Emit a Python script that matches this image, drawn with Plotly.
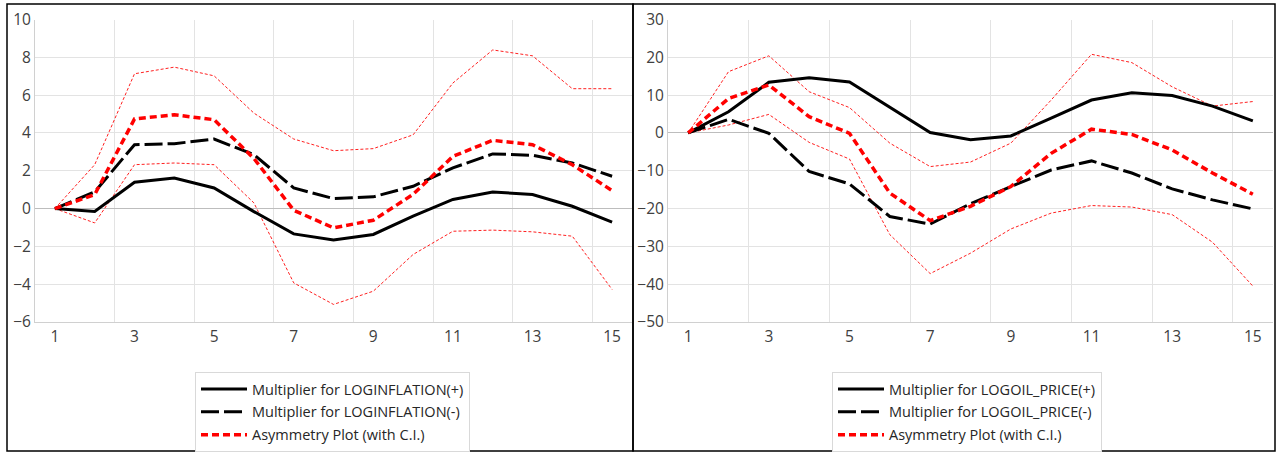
import plotly.graph_objects as go

steps = list(range(1, 16))

# Left panel: LOGINFLATION
inf_pos = [0, -0.15, 1.39, 1.62, 1.09, -0.16, -1.34, -1.66, -1.37, -0.4, 0.48, 0.88, 0.74, 0.12, -0.72]
inf_neg = [0, 0.88, 3.38, 3.43, 3.68, 2.85, 1.09, 0.53, 0.62, 1.18, 2.15, 2.89, 2.82, 2.41, 1.71]
inf_asym = [0, 0.74, 4.74, 4.96, 4.7, 2.65, -0.09, -1.02, -0.62, 0.75, 2.76, 3.61, 3.38, 2.32, 0.95]
inf_up = [0, 2.32, 7.13, 7.48, 7.02, 5.05, 3.68, 3.06, 3.17, 3.9, 6.64, 8.39, 8.08, 6.34, 6.34]
inf_lo = [0, -0.76, 2.32, 2.41, 2.32, 0.3, -3.93, -5.07, -4.37, -2.43, -1.2, -1.14, -1.23, -1.46, -4.28]

# Right panel: LOGOIL_PRICE
oil_pos = [0, 5.6, 13.4, 14.6, 13.5, 6.9, 0.1, -1.8, -0.8, 3.9, 8.7, 10.6, 9.9, 7.1, 3.2]
oil_neg = [0, 3.6, -0.1, -10.2, -13.5, -22.1, -24.1, -18.7, -14.2, -9.8, -7.4, -10.6, -14.8, -17.7, -20.1]
oil_asym = [0, 9.1, 12.7, 4.3, -0.1, -15.9, -23.2, -19.4, -14.2, -5.4, 1.0, -0.4, -4.5, -10.6, -16.2]
oil_up = [0, 16.2, 20.4, 10.9, 6.7, -2.7, -8.9, -7.7, -2.7, 8.7, 20.8, 18.6, 12.2, 7.1, 8.3]
oil_lo = [0, 2.1, 4.9, -2.5, -6.9, -26.9, -37.2, -31.8, -25.4, -21.2, -19.2, -19.6, -21.6, -28.9, -40.5]

x_ticks = [1, 3, 5, 7, 9, 11, 13, 15]
left_names = ["Multiplier for LOGINFLATION(+)", "Multiplier for LOGINFLATION(-)", "Asymmetry Plot (with C.I.)"]
right_names = ["Multiplier for LOGOIL_PRICE(+)", "Multiplier for LOGOIL_PRICE(-)", "Asymmetry Plot (with C.I.)"]

W, H = 1278, 452
fig = go.Figure()


def add_panel(xa, ya, leg, pos, neg, asym, up, lo, names):
    fig.add_trace(go.Scatter(x=steps, y=up, xaxis=xa, yaxis=ya, mode="lines", showlegend=False,
                             line=dict(color="#ff2020", width=1, dash="3px,2px"), hoverinfo="skip"))
    fig.add_trace(go.Scatter(x=steps, y=lo, xaxis=xa, yaxis=ya, mode="lines", showlegend=False,
                             line=dict(color="#ff2020", width=1, dash="3px,2px"), hoverinfo="skip"))
    fig.add_trace(go.Scatter(x=steps, y=pos, xaxis=xa, yaxis=ya, mode="lines", name=names[0], legend=leg,
                             legendgroup=leg + "a", line=dict(color="black", width=3)))
    fig.add_trace(go.Scatter(x=steps, y=neg, xaxis=xa, yaxis=ya, mode="lines", name=names[1], legend=leg,
                             legendgroup=leg + "b", line=dict(color="black", width=3, dash="18px,5px")))
    fig.add_trace(go.Scatter(x=steps, y=asym, xaxis=xa, yaxis=ya, mode="lines", name=names[2], legend=leg,
                             legendgroup=leg + "c", line=dict(color="#ff0000", width=3.5, dash="7px,4px")))


add_panel("x", "y", "legend", inf_pos, inf_neg, inf_asym, inf_up, inf_lo, left_names)
add_panel("x2", "y2", "legend2", oil_pos, oil_neg, oil_asym, oil_up, oil_lo, right_names)

tick_font = dict(family="Open Sans", size=15.5, color="#404040")
grid_c = "#e3e3e3"


def xaxis(dom, anchor):
    return dict(domain=dom, anchor=anchor, range=[0.5, 15.5], tickmode="array", tickvals=x_ticks,
                ticktext=[str(v) for v in x_ticks], showgrid=False, zeroline=False, automargin=False,
                showline=True, linecolor="#d0d0d0", linewidth=1, ticks="", tickfont=tick_font,
                minor=dict(tickmode="linear", tick0=0.5, dtick=2, showgrid=True, gridcolor=grid_c, gridwidth=1),
                fixedrange=True)


def yaxis(dom, anchor, rng, dt):
    return dict(domain=dom, anchor=anchor, range=rng, dtick=dt, tick0=0, showgrid=True, gridcolor=grid_c,
                zeroline=True, zerolinecolor="#bdbdbd", zerolinewidth=1, showline=True, linecolor="#d0d0d0",
                linewidth=1, ticks="", tickfont=tick_font, fixedrange=True, automargin=False)


ydom = [1 - 322 / H, 1 - 19.5 / H]
leg_common = dict(bgcolor="white", bordercolor="#d9d9d9", borderwidth=1, xanchor="left", yanchor="top",
                  font=dict(family="Open Sans", size=14.5, color="#262626"), tracegroupgap=1, itemwidth=46,
                  orientation="v")

fig.update_layout(
    width=W, height=H, margin=dict(l=0, r=0, t=0, b=0, autoexpand=False),
    paper_bgcolor="white", plot_bgcolor="white",
    xaxis=xaxis([35 / W, 632 / W], "y"),
    yaxis=yaxis(ydom, "x", [-6, 10], 2),
    xaxis2=xaxis([668 / W, 1273 / W], "y2"),
    yaxis2=yaxis(ydom, "x2", [-50, 30], 10),
    legend=dict(x=195 / W, y=1 - 372 / H, **leg_common),
    legend2=dict(x=832 / W, y=1 - 372 / H, **leg_common),
    shapes=[
        dict(type="rect", xref="paper", yref="paper", x0=7 / W, x1=633 / W, y0=1 / H, y1=1 - 4 / H,
             line=dict(color="black", width=1.5)),
        dict(type="rect", xref="paper", yref="paper", x0=633 / W, x1=1275 / W, y0=1 / H, y1=1 - 4 / H,
             line=dict(color="black", width=1.5)),
    ],
)

fig.write_html("out.html")
